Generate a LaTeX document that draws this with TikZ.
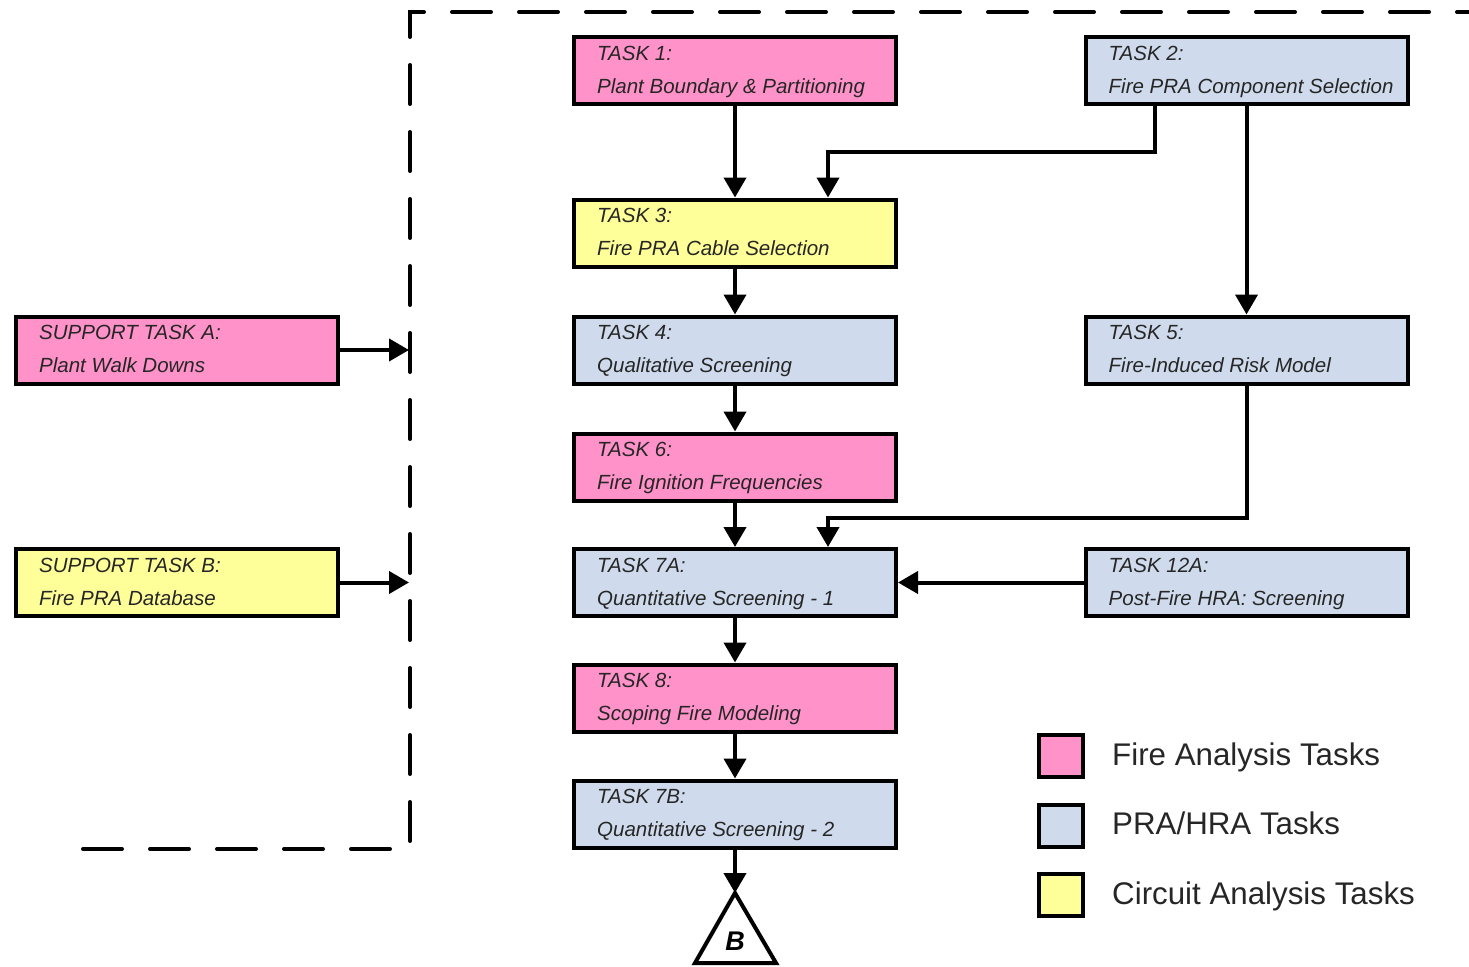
\documentclass[tikz,border=0pt]{standalone}
\usepackage{fontspec}
\setmainfont{Liberation Sans}
\usetikzlibrary{arrows.meta}
\definecolor{firepink}{HTML}{FF92C9}
\definecolor{prablue}{HTML}{CFDBEC}
\definecolor{circyel}{HTML}{FFFF99}
\definecolor{txt}{HTML}{262626}
\tikzset{
  box/.style={draw=black, line width=4pt, minimum width=322pt, minimum height=67pt, inner sep=0pt},
  lbl/.style={anchor=base west, inner sep=0pt, font=\fontsize{20.5}{24}\selectfont\itshape, text=txt},
  arr/.style={line width=4pt, -{Triangle[width=22pt,length=20pt]}},
  legbox/.style={draw=black, line width=4pt, minimum width=44pt, minimum height=42pt, inner sep=0pt},
  legtxt/.style={anchor=base west, inner sep=0pt, font=\fontsize{31.3}{34}\selectfont, text=txt},
  dashline/.style={line width=4pt, line cap=round, dash pattern=on 39pt off 28pt}
}
\begin{document}
\begin{tikzpicture}[x=1pt,y=-1pt]
\useasboundingbox (0,0) rectangle (1469,966);
% dashed boundary
\draw[dashline] (83,849) -- (410,849) -- (410,12) -- (1469,12);
% boxes
\node[box, fill=firepink] (t1) at (735,70.5) {};
\node[box, fill=prablue] (t2) at (1246.5,70.5) {};
\node[box, fill=circyel] (t3) at (735,233) {};
\node[box, fill=prablue] (t4) at (735,350) {};
\node[box, fill=prablue] (t5) at (1246.5,350) {};
\node[box, fill=firepink] (t6) at (735,467) {};
\node[box, fill=prablue] (t7a) at (735,582.5) {};
\node[box, fill=prablue] (t12a) at (1246.5,582.5) {};
\node[box, fill=firepink] (t8) at (735,698) {};
\node[box, fill=prablue] (t7b) at (735,814) {};
\node[box, fill=firepink] (sa) at (177,350) {};
\node[box, fill=circyel] (sb) at (177,582.5) {};
% labels
\foreach \n/\a/\b in {t1/TASK 1:/Plant Boundary \& Partitioning,
  t2/TASK 2:/Fire PRA Component Selection,
  t3/TASK 3:/Fire PRA Cable Selection,
  t4/TASK 4:/Qualitative Screening,
  t5/TASK 5:/Fire-Induced Risk Model,
  t6/TASK 6:/Fire Ignition Frequencies,
  t7a/TASK 7A:/Quantitative Screening - 1,
  t12a/TASK 12A:/Post-Fire HRA: Screening,
  t8/TASK 8:/Scoping Fire Modeling,
  t7b/TASK 7B:/Quantitative Screening - 2,
  sa/SUPPORT TASK A:/Plant Walk Downs,
  sb/SUPPORT TASK B:/Fire PRA Database}{
  \node[lbl] (\n l1) at ([xshift=25pt,yshift=-25pt]\n.north west) {\a};
  \node[lbl] (\n l2) at ([xshift=25pt,yshift=-58pt]\n.north west) {\b};
}
% triangle B
\draw[line width=4pt, line join=miter] (735,893) -- (776,963) -- (695,963) -- cycle;
\coordinate (tri) at (735,893);
\node[inner sep=0pt, font=\fontsize{27}{30}\selectfont\bfseries\itshape] (bl) at (735,941) {B};
% connectors
\coordinate (j1) at (828,152);
\coordinate (j2) at (828,518);
\coordinate (da) at (409,350);
\coordinate (db) at (409,582.5);
\draw[arr] (t1.south) -- (t3.north);
\draw[arr] ([xshift=-91.5pt]t2.south) |- (j1) -- ([xshift=93pt]t3.north);
\draw[arr] (t2.south) -- (t5.north);
\draw[arr] (t3.south) -- (t4.north);
\draw[arr] (t4.south) -- (t6.north);
\draw[arr] (t6.south) -- (t7a.north);
\draw[arr] (t5.south) |- (j2) -- ([xshift=93pt]t7a.north);
\draw[arr] (t12a.west) -- (t7a.east);
\draw[arr] (t7a.south) -- (t8.north);
\draw[arr] (t8.south) -- (t7b.north);
\draw[arr] (t7b.south) -- (tri);
\draw[arr] (sa.east) -- (da);
\draw[arr] (sb.east) -- (db);
% legend
\node[legbox, fill=firepink] (lg1) at (1061,756) {};
\node[legbox, fill=prablue] (lg2) at (1061,826) {};
\node[legbox, fill=circyel] (lg3) at (1061,895) {};
\node[legtxt] (lt1) at (1112,765) {Fire Analysis Tasks};
\node[legtxt] (lt2) at (1112,834) {PRA/HRA Tasks};
\node[legtxt] (lt3) at (1112,904) {Circuit Analysis Tasks};
\end{tikzpicture}
\end{document}
